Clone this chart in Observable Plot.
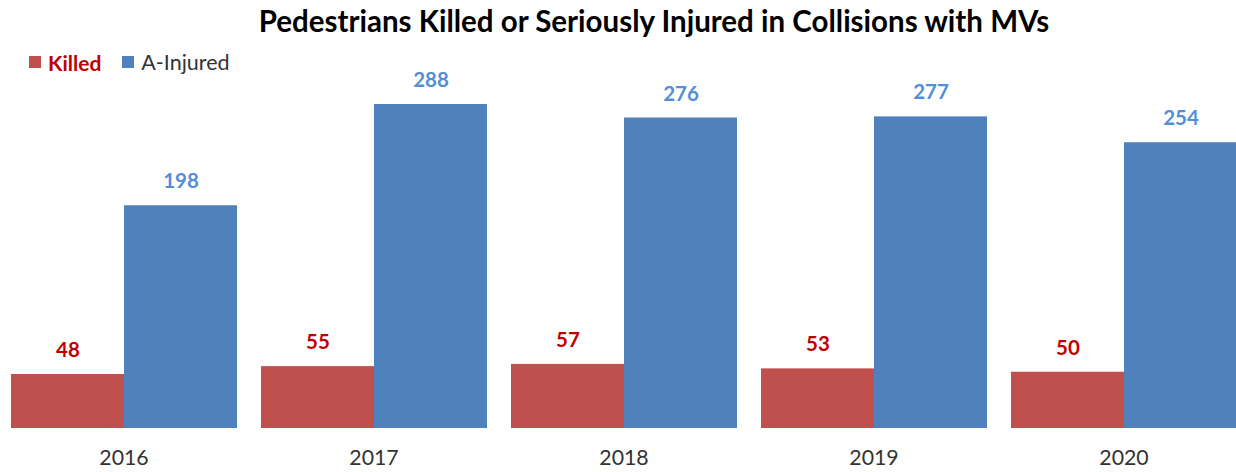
<!DOCTYPE html>
<html>
<head>
<meta charset="utf-8">
<script src="https://cdn.jsdelivr.net/npm/d3@7"></script>
<script src="https://cdn.jsdelivr.net/npm/@observablehq/plot@0.6"></script>
<style>
  html, body { margin: 0; padding: 0; background: #fff; overflow: hidden; }
  #wrap { position: relative; width: 1236px; height: 472px; font-family: Lato, "Open Sans", sans-serif; }
  #title { position: absolute; left: 0; top: 0; width: 1236px; height: 44px; line-height: 42px;
           text-align: center; padding-left: 72px; box-sizing: border-box;
           font-size: 29.5px; font-weight: bold; color: #000; white-space: nowrap; }
  #legend { position: absolute; left: 29px; top: 49px; height: 26px; display: flex; align-items: center;
            font-size: 21px; z-index: 2; }
  .sw { width: 12px; height: 12px; display: inline-block; margin-right: 7px; }
  #chart { position: absolute; left: 0; top: 44px; }
</style>
</head>
<body>
<div id="wrap">
  <div id="title">Pedestrians Killed or Seriously Injured in Collisions with MVs</div>
  <div id="legend">
    <span class="sw" style="background:#C0504D"></span><span style="color:#C00000;font-weight:bold;margin-right:21px">Killed</span>
    <span class="sw" style="background:#4F81BD"></span><span style="color:#333;font-size:21.5px">A-Injured</span>
  </div>
  <div id="chart"></div>
</div>
<script>
const years = ["2016", "2017", "2018", "2019", "2020"];
const series = ["Killed", "A-Injured"];
const killed = [48, 55, 57, 53, 50];
const injured = [198, 288, 276, 277, 254];
const barColors = ["#C0504D", "#4F81BD"];
const labelColors = ["#C00000", "#558ED5"];

const data = [];
years.forEach((y, i) => {
  data.push({year: y, series: series[0], value: killed[i]});
  data.push({year: y, series: series[1], value: injured[i]});
});

const plot = Plot.plot({
  width: 1236,
  height: 428,
  marginTop: 0,
  marginBottom: 44,
  marginLeft: 0,
  marginRight: 0,
  style: {fontFamily: "Lato, 'Open Sans', sans-serif", background: "#fff", overflow: "hidden"},
  fx: {domain: years, range: [-1.5, 1248.5], paddingInner: 0.092, paddingOuter: 0.046, label: null},
  x: {domain: series, padding: 0, axis: null},
  y: {domain: [0, 384 / 1.125], axis: null},
  color: {domain: series, range: barColors},
  marks: [
    Plot.barY(data, {fx: "year", x: "series", y: "value", fill: "series"}),
    Plot.text(data, {fx: "year", x: "series", y: "value", text: d => String(d.value), dy: -24,
      fill: d => labelColors[series.indexOf(d.series)], fontWeight: "bold", fontSize: 20.5}),
    Plot.axisFx({anchor: "bottom", tickSize: 0, tickPadding: 21, fontSize: 21.3, color: "#333", label: null})
  ]
});
document.getElementById("chart").appendChild(plot);
</script>
</body>
</html>
